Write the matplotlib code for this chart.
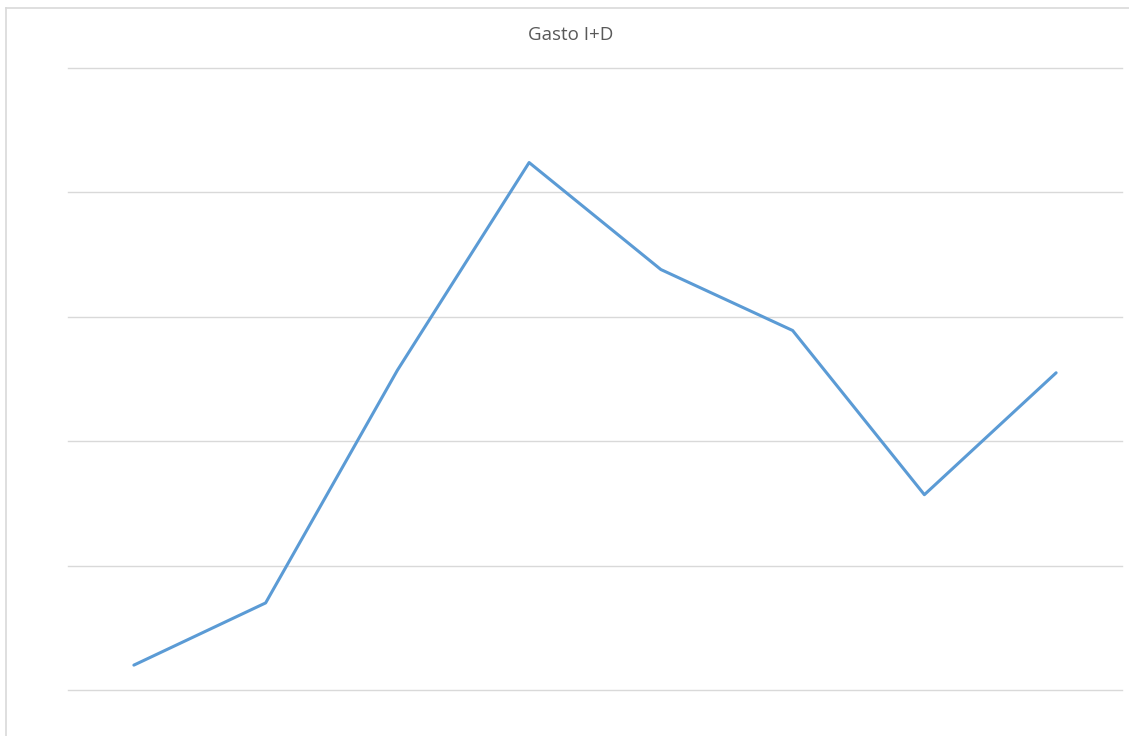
import matplotlib
matplotlib.use("Agg")
import matplotlib.pyplot as plt
from matplotlib.lines import Line2D

# Data (no axis labels shown in the reference)
categories = ["1", "2", "3", "4", "5", "6", "7", "8"]
values = [0.20, 0.70, 2.57, 4.24, 3.38, 2.89, 1.57, 2.55]
grid_ticks = [0, 1, 2, 3, 4, 5]

W, H = 1129, 736
fig = plt.figure(figsize=(W / 100, H / 100), dpi=100)
ax = fig.add_axes([68 / W, (H - 690) / H, (1122 - 68) / W, (690 - 68) / H])

x = list(range(len(categories)))
ax.plot(x, values, color="#5B9BD5", linewidth=2.2, solid_capstyle="round")

ax.set_xlim(-0.5, len(categories) - 0.5)
ax.set_ylim(grid_ticks[0], grid_ticks[-1])
ax.set_yticks(grid_ticks)
ax.set_xticks([])
ax.tick_params(left=False, labelleft=False)
ax.grid(axis="y", color="#D9D9D9", linewidth=1)
for gl in ax.get_ygridlines():
    gl.set_clip_on(False)
ax.set_axisbelow(True)
for s in ax.spines.values():
    s.set_visible(False)

# chart frame (top and left edges visible in reference)
fig.add_artist(Line2D([6 / W, 1.0], [1 - 8 / H, 1 - 8 / H], color="#D9D9D9", linewidth=1.2))
fig.add_artist(Line2D([6 / W, 6 / W], [0, 1 - 8 / H], color="#D9D9D9", linewidth=1.2))

fig.text(571 / W, 1 - 35 / H, "Gasto I+D", ha="center", va="center",
         fontsize=13.5, color="#595959", family="Open Sans")

fig.savefig("out.png", dpi=100)
